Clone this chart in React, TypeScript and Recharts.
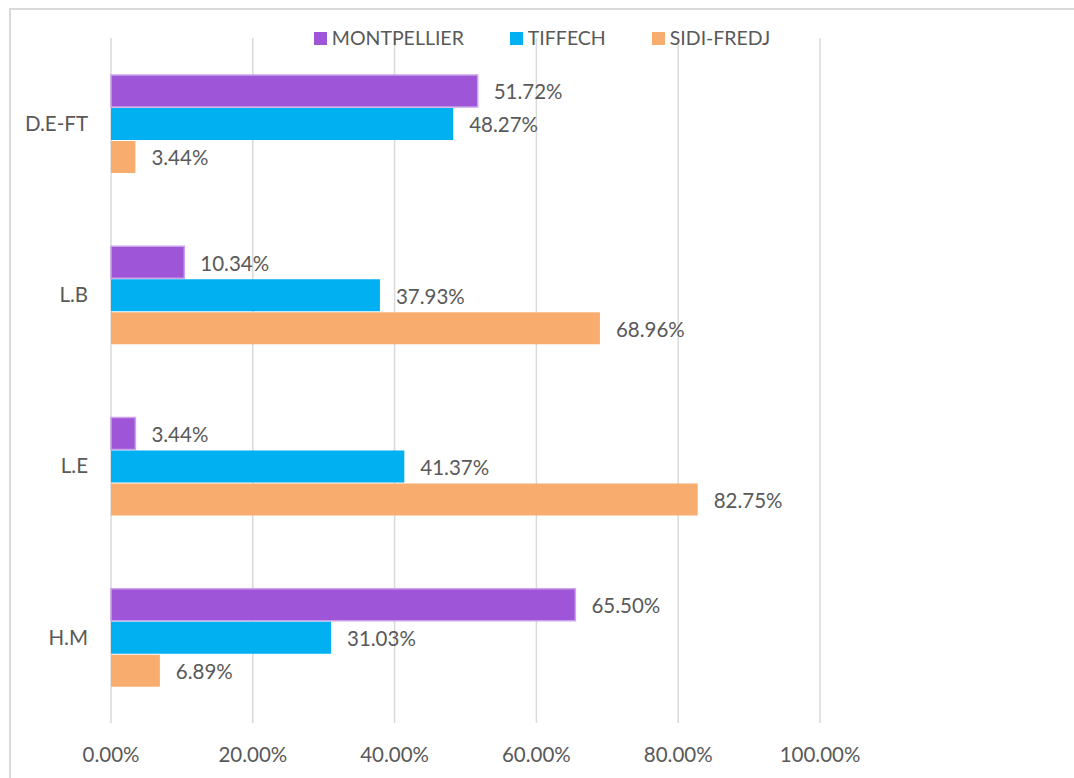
import React from 'react';
import { BarChart, Bar, XAxis, YAxis, CartesianGrid, LabelList } from 'recharts';

const categories = ['D.E-FT', 'L.B', 'L.E', 'H.M'];
const montpellier = [51.72, 10.34, 3.44, 65.5];
const tiffech = [48.27, 37.93, 41.37, 31.03];
const sidiFredj = [3.44, 68.96, 82.75, 6.89];
const xTicks = [0, 20, 40, 60, 80, 100];

const seriesNames = ['MONTPELLIER', 'TIFFECH', 'SIDI-FREDJ'];
const seriesColors = ['#9f55d7', '#00b0f0', '#f8ac6d'];

const data = categories.map((c, i) => ({
  name: c,
  montpellier: montpellier[i],
  tiffech: tiffech[i],
  sidiFredj: sidiFredj[i],
}));

const FONT = 'Lato, "Open Sans", sans-serif';
const TEXT = '#595959';
const FS = 20.5;
const fmt = (v: any) => `${Number(v).toFixed(2)}%`;

export default function App() {
  return (
    <div style={{ position: 'absolute', left: 0, top: 0, width: 1074, height: 778, background: '#fff', fontFamily: FONT, overflow: 'hidden' }}>
      <div style={{ position: 'absolute', left: 9, top: 8, width: 1100, height: 800, border: '2px solid #d9d9d9', boxSizing: 'border-box' }} />
      <BarChart
        width={1074}
        height={778}
        data={data}
        layout="vertical"
        margin={{ top: 38, right: 254, bottom: 0, left: 0 }}
        barSize={32}
        barGap={1}
        style={{ position: 'absolute', left: 0, top: 0 }}
      >
        <CartesianGrid horizontal={false} stroke="#d9d9d9" strokeWidth={1.5} />
        <XAxis
          type="number"
          domain={[0, 100]}
          ticks={xTicks}
          tickFormatter={fmt}
          axisLine={false}
          tickLine={false}
          tickSize={0}
          tickMargin={24}
          height={55}
          interval={0}
          tick={{ fill: TEXT, fontSize: FS, fontFamily: FONT }}
        />
        <YAxis
          type="category"
          dataKey="name"
          width={111}
          axisLine={false}
          tickLine={false}
          tickSize={0}
          tickMargin={23}
          tick={{ fill: TEXT, fontSize: FS, fontFamily: FONT }}
        />
        <Bar dataKey="montpellier" name={seriesNames[0]} fill={seriesColors[0]} stroke="#c9a2ea" strokeWidth={1.5} isAnimationActive={false}>
          <LabelList dataKey="montpellier" position="right" offset={16} formatter={fmt} fill={TEXT} fontSize={FS} fontFamily={FONT} dy={1} />
        </Bar>
        <Bar dataKey="tiffech" name={seriesNames[1]} fill={seriesColors[1]} isAnimationActive={false}>
          <LabelList dataKey="tiffech" position="right" offset={16} formatter={fmt} fill={TEXT} fontSize={FS} fontFamily={FONT} dy={1} />
        </Bar>
        <Bar dataKey="sidiFredj" name={seriesNames[2]} fill={seriesColors[2]} isAnimationActive={false}>
          <LabelList dataKey="sidiFredj" position="right" offset={16} formatter={fmt} fill={TEXT} fontSize={FS} fontFamily={FONT} dy={1} />
        </Bar>
      </BarChart>
      <div style={{ position: 'absolute', left: 0, top: 26, width: 1074, display: 'flex', justifyContent: 'center', pointerEvents: 'none' }}>
        <div style={{ display: 'flex', alignItems: 'center', marginLeft: 10 }}>
          {seriesNames.map((n, i) => (
            <div key={n} style={{ display: 'flex', alignItems: 'center', marginRight: i < 2 ? 46 : 0 }}>
              <span style={{ display: 'inline-block', width: 13, height: 13, background: seriesColors[i], marginRight: 5 }} />
              <span style={{ color: TEXT, fontSize: 19.5, lineHeight: '24px' }}>{n}</span>
            </div>
          ))}
        </div>
      </div>
    </div>
  );
}
